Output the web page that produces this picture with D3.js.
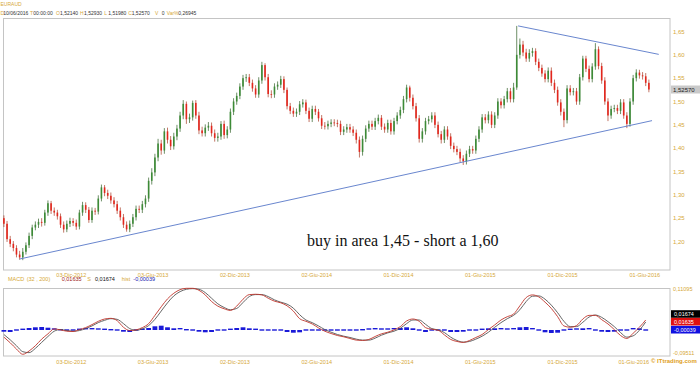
<!DOCTYPE html>
<html><head><meta charset="utf-8">
<script src="https://cdn.jsdelivr.net/npm/d3@7"></script>
<style>body{margin:0;background:#fff}svg{display:block}</style>
</head><body><svg id="c" width="700" height="365"></svg>
<script>
// ---------- DATA ----------
const symbol = "EURAUD";
const headerKeys = ["D","T","O","H","L","C","V","Var%"];
const headerVals = ["10/06/2016","00:00:00","1,52140","1,52930","1,51980","1,52570","0","0,26945"];
const lastPrice = 1.5257;
const startDate = "2012-07-06"; // first weekly candle
const firstOpen = 1.250;
const closes = [
1.238,1.205,1.195,1.186,1.172,1.166,1.178,1.192,1.212,1.230,
1.236,1.242,1.240,1.262,1.282,1.266,1.262,1.254,1.236,1.226,
1.238,1.244,1.240,1.232,1.262,1.278,1.268,1.246,1.266,1.264,
1.292,1.316,1.304,1.298,1.288,1.280,1.266,1.252,1.236,1.226,
1.238,1.252,1.270,1.268,1.280,1.292,1.330,1.348,1.380,1.410,
1.395,1.436,1.418,1.404,1.425,1.442,1.470,1.495,1.462,1.466,
1.497,1.470,1.438,1.432,1.444,1.448,1.432,1.422,1.425,1.452,
1.428,1.440,1.478,1.500,1.512,1.532,1.550,1.552,1.540,1.528,
1.515,1.545,1.578,1.552,1.516,1.515,1.532,1.536,1.548,1.525,
1.490,1.480,1.474,1.478,1.494,1.498,1.480,1.463,1.484,1.478,
1.464,1.448,1.447,1.452,1.455,1.454,1.452,1.435,1.440,1.445,
1.440,1.433,1.418,1.392,1.420,1.442,1.452,1.446,1.458,1.465,
1.446,1.440,1.454,1.436,1.458,1.470,1.482,1.505,1.530,1.508,
1.490,1.464,1.420,1.436,1.458,1.462,1.470,1.450,1.430,1.418,
1.440,1.425,1.405,1.398,1.392,1.378,1.372,1.388,1.398,1.395,
1.420,1.440,1.466,1.460,1.472,1.450,1.470,1.500,1.492,1.505,
1.522,1.505,1.530,1.600,1.622,1.605,1.592,1.604,1.608,1.585,
1.572,1.560,1.548,1.566,1.540,1.525,1.498,1.478,1.460,1.528,
1.520,1.522,1.500,1.552,1.592,1.570,1.548,1.575,1.612,1.576,
1.545,1.500,1.470,1.484,1.486,1.480,1.498,1.470,1.452,1.500,
1.550,1.562,1.556,1.554,1.540,1.5257];
const highs = [
1.256,1.244,1.212,1.201,1.192,1.180,1.186,1.198,1.219,1.236,
1.243,1.249,1.250,1.268,1.288,1.287,1.273,1.268,1.260,1.243,
1.245,1.251,1.250,1.247,1.268,1.285,1.284,1.274,1.273,1.272,
1.299,1.322,1.321,1.311,1.305,1.295,1.287,1.273,1.259,1.243,
1.245,1.259,1.277,1.277,1.287,1.299,1.337,1.357,1.388,1.420,
1.418,1.443,1.444,1.426,1.433,1.450,1.478,1.503,1.500,1.474,
1.502,1.503,1.478,1.446,1.451,1.456,1.455,1.440,1.433,1.458,
1.459,1.447,1.485,1.507,1.519,1.539,1.557,1.559,1.559,1.547,
1.535,1.552,1.585,1.582,1.559,1.524,1.539,1.543,1.555,1.554,
1.530,1.497,1.487,1.485,1.501,1.505,1.504,1.487,1.491,1.491,
1.484,1.471,1.456,1.459,1.462,1.462,1.461,1.459,1.447,1.452,
1.452,1.447,1.440,1.425,1.427,1.449,1.459,1.459,1.465,1.472,
1.471,1.453,1.461,1.461,1.465,1.477,1.489,1.512,1.536,1.534,
1.515,1.497,1.471,1.443,1.465,1.469,1.477,1.477,1.457,1.437,
1.447,1.447,1.432,1.412,1.405,1.399,1.385,1.395,1.405,1.405,
1.427,1.447,1.473,1.473,1.479,1.479,1.477,1.507,1.507,1.512,
1.529,1.529,1.540,1.662,1.635,1.630,1.613,1.612,1.615,1.614,
1.592,1.579,1.567,1.573,1.573,1.547,1.532,1.505,1.485,1.535,
1.535,1.529,1.529,1.559,1.598,1.598,1.577,1.582,1.625,1.618,
1.583,1.552,1.507,1.491,1.493,1.493,1.505,1.505,1.477,1.507,
1.557,1.569,1.568,1.563,1.561,1.547];
const lows = [
1.231,1.199,1.188,1.179,1.166,1.161,1.160,1.172,1.186,1.205,
1.224,1.229,1.232,1.234,1.255,1.259,1.255,1.247,1.229,1.219,
1.220,1.231,1.233,1.225,1.226,1.255,1.261,1.240,1.240,1.257,
1.258,1.286,1.297,1.291,1.281,1.273,1.259,1.245,1.229,1.221,
1.220,1.231,1.245,1.261,1.261,1.273,1.285,1.322,1.340,1.372,
1.386,1.388,1.410,1.396,1.397,1.417,1.435,1.462,1.452,1.454,
1.459,1.463,1.430,1.425,1.425,1.437,1.425,1.414,1.414,1.418,
1.420,1.421,1.433,1.471,1.493,1.505,1.525,1.542,1.533,1.521,
1.508,1.508,1.538,1.545,1.509,1.507,1.508,1.525,1.529,1.518,
1.483,1.473,1.467,1.467,1.471,1.487,1.473,1.456,1.456,1.471,
1.457,1.441,1.440,1.440,1.445,1.447,1.445,1.428,1.428,1.433,
1.433,1.426,1.410,1.380,1.384,1.413,1.435,1.439,1.439,1.451,
1.439,1.433,1.433,1.429,1.429,1.451,1.463,1.475,1.498,1.500,
1.483,1.457,1.412,1.412,1.429,1.451,1.455,1.443,1.423,1.410,
1.411,1.418,1.398,1.391,1.385,1.370,1.364,1.365,1.381,1.388,
1.388,1.413,1.433,1.453,1.453,1.443,1.443,1.463,1.485,1.485,
1.498,1.498,1.498,1.525,1.592,1.597,1.585,1.585,1.596,1.578,
1.565,1.553,1.541,1.541,1.533,1.518,1.491,1.470,1.445,1.453,
1.513,1.513,1.493,1.493,1.545,1.563,1.541,1.541,1.568,1.569,
1.538,1.493,1.458,1.463,1.477,1.473,1.473,1.463,1.443,1.446,
1.493,1.543,1.549,1.547,1.533,1.5198];

// MACD panel: one value every two weeks
const macdLine = [
-0.038,-0.055,-0.074,-0.090,-0.080,-0.064,-0.044,-0.028,-0.013,-0.016,
-0.020,-0.021,-0.015,-0.009,0.000,0.010,0.017,0.019,0.012,-0.008,
-0.018,-0.016,-0.009,0.003,0.028,0.054,0.078,0.095,0.106,0.110,
0.110,0.104,0.090,0.070,0.056,0.048,0.043,0.056,0.077,0.091,
0.092,0.090,0.080,0.071,0.066,0.057,0.041,0.018,0.010,0.002,
-0.010,-0.020,-0.027,-0.033,-0.037,-0.042,-0.047,-0.048,-0.045,-0.036,
-0.028,-0.023,-0.016,-0.006,0.011,0.017,0.010,-0.009,-0.014,-0.017,
-0.031,-0.045,-0.051,-0.054,-0.048,-0.039,-0.030,-0.015,-0.001,0.014,
0.024,0.032,0.057,0.082,0.090,0.084,0.068,0.049,0.024,-0.004,
-0.008,-0.003,0.017,0.028,0.028,0.015,0.002,-0.015,-0.033,-0.042,
-0.026,-0.008,0.014];
const signalLine = [
-0.030,-0.046,-0.064,-0.082,-0.085,-0.072,-0.054,-0.036,-0.020,-0.015,
-0.018,-0.020,-0.018,-0.012,-0.004,0.006,0.013,0.018,0.016,0.003,
-0.012,-0.017,-0.013,-0.003,0.016,0.041,0.066,0.087,0.100,0.107,
0.109,0.107,0.097,0.080,0.063,0.052,0.045,0.049,0.067,0.085,
0.091,0.091,0.085,0.075,0.068,0.062,0.050,0.030,0.014,0.006,
-0.004,-0.015,-0.023,-0.030,-0.035,-0.039,-0.044,-0.047,-0.047,-0.041,
-0.032,-0.025,-0.020,-0.011,0.003,0.014,0.014,0.001,-0.012,-0.016,
-0.024,-0.038,-0.048,-0.053,-0.051,-0.044,-0.035,-0.023,-0.008,0.006,
0.018,0.028,0.045,0.070,0.086,0.087,0.077,0.059,0.036,0.010,
-0.006,-0.006,0.007,0.023,0.029,0.022,0.009,-0.006,-0.024,-0.038,
-0.034,-0.017,0.008];
// histogram, drawn on its own scale around its own zero line
const histBars = [
-0.0017,-0.0020,-0.0013,0.0007,0.0020,0.0027,0.0030,0.0023,0.0010,0.0003,
-0.0007,-0.0010,0.0007,0.0013,0.0013,0.0010,0.0007,0.0003,-0.0007,-0.0017,
-0.0020,-0.0010,0.0007,0.0020,0.0037,0.0043,0.0027,0.0017,0.0013,0.0003,
-0.0007,-0.0017,-0.0023,-0.0020,-0.0010,-0.0007,0.0007,0.0020,0.0027,0.0017,
0.0007,-0.0003,-0.0007,-0.0007,-0.0010,-0.0020,-0.0027,-0.0023,-0.0010,-0.0007,
-0.0007,-0.0007,-0.0007,-0.0007,-0.0007,-0.0007,-0.0007,0.0003,0.0010,0.0013,
0.0010,0.0010,0.0013,0.0020,0.0027,0.0017,-0.0013,-0.0020,-0.0007,-0.0007,
-0.0013,-0.0020,-0.0020,-0.0017,-0.0013,-0.0013,0.0007,0.0017,0.0017,0.0013,
0.0010,0.0013,0.0027,0.0030,0.0013,-0.0013,-0.0023,-0.0030,-0.0027,-0.0010,
0.0007,0.0010,0.0017,0.0013,-0.0007,-0.0017,-0.0020,-0.0017,-0.0013,-0.0010,
0.0013,0.0017,-0.0004];
const histScale = [-0.026, 0.042];
const macdKeys = ["MACD","(32 , 200)","S","hist"];
const macdVals = ["0,01635","0,01674","-0,00039"];
const macdScale = [-0.09511, 0.11095];
const macdScaleLabels = ["0,11095","-0,09511"];

const priceTicks = [1.20,1.25,1.30,1.35,1.40,1.45,1.50,1.55,1.60,1.65];
const dateTicks = ["2012-12-03","2013-06-03","2013-12-02","2014-06-02","2014-12-01","2015-06-01","2015-12-01","2016-06-01"];
const dateTickLabels = ["03-Dic-2012","03-Giu-2013","02-Dic-2013","02-Giu-2014","01-Dic-2014","01-Giu-2015","01-Dic-2015","01-Giu-2016"];
const trendLow = [["2012-08-10",1.1625],["2016-06-17",1.459]];
const trendHigh = [["2015-08-24",1.662],["2016-07-02",1.601]];
const note = "buy in area 1,45 - short a 1,60";
const copyright = "\u00A9 ITtrading.com";

// ---------- DRAW ----------
const svg = d3.select("#c");
const parse = d3.timeParse("%Y-%m-%d");
const it = d3.formatLocale({decimal:",",thousands:".",grouping:[3],currency:["",""]});
const f2 = it.format(".2f"), f5 = it.format(".5f");
const gold = "#d6a838", frameC = "#c4c4c4", font = "Liberation Sans, Arial, sans-serif";

const x = d3.scaleTime().domain([parse("2012-07-04"), parse("2016-07-27")]).range([3, 670]);
const y = d3.scaleLinear().domain([1.20, 1.65]).range([241.5, 31.5]);
const ym = d3.scaleLinear().domain(macdScale).range([356, 288]);
const yh = d3.scaleLinear().domain(histScale).range([356, 288]);

const t0 = parse(startDate);
const candles = closes.map((c, i) => ({
  date: d3.timeDay.offset(t0, 7 * i),
  o: i === 0 ? firstOpen : closes[i - 1], c, h: highs[i], l: lows[i]
}));

// header
svg.append("text").attr("x", 0.5).attr("y", 6).attr("font-family", font).attr("font-size", 5)
  .attr("fill", gold).text(symbol);
const keyX = [0.5, 30, 56, 80, 104.3, 128.3, 155, 166.7];
const valX = [3.3, 33.3, 60, 84, 108.3, 131.7, 161.7, 178.3];
headerKeys.forEach((k, i) => {
  svg.append("text").attr("x", keyX[i]).attr("y", 15).attr("font-family", font).attr("font-size", 5)
    .attr("fill", gold).text(k);
  svg.append("text").attr("x", valX[i]).attr("y", 15).attr("font-family", font).attr("font-size", 5)
    .attr("fill", "#333").text(headerVals[i]);
});

// main frame
svg.append("rect").attr("x", 3.5).attr("y", 18.5).attr("width", 666.5).attr("height", 251.5)
  .attr("fill", "none").attr("stroke", frameC);

// price axis labels
svg.append("g").selectAll("text").data(priceTicks).join("text")
  .attr("x", 673).attr("y", d => y(d) + 2).attr("font-family", font).attr("font-size", 6)
  .attr("fill", gold).text(d => f2(d));

// last price box
svg.append("rect").attr("x", 671).attr("y", y(lastPrice) - 4).attr("width", 29).attr("height", 8).attr("fill", "#c9c9c9");
svg.append("text").attr("x", 673).attr("y", y(lastPrice) + 2).attr("font-family", font).attr("font-size", 6)
  .attr("fill", "#222").text(f5(lastPrice));

// candles
const cg = svg.append("g");
cg.selectAll("line").data(candles).join("line")
  .attr("x1", d => x(d.date)).attr("x2", d => x(d.date))
  .attr("y1", d => y(d.h)).attr("y2", d => y(d.l))
  .attr("stroke", d => d.c >= d.o ? "#2f5f25" : "#a83a22").attr("stroke-width", 0.7);
cg.selectAll("rect").data(candles).join("rect")
  .attr("x", d => x(d.date) - 0.8).attr("width", 1.6)
  .attr("y", d => y(Math.max(d.o, d.c)))
  .attr("height", d => Math.max(0.8, Math.abs(y(d.o) - y(d.c))))
  .attr("fill", d => d.c >= d.o ? "#3d8b37" : "#e3261d");

// trend lines
const tl = d3.line().x(d => x(parse(d[0]))).y(d => y(d[1]));
[trendLow, trendHigh].forEach(t => svg.append("path").attr("d", tl(t)).attr("fill", "none")
  .attr("stroke", "#5878c8").attr("stroke-width", 0.9));

// note
svg.append("text").attr("x", 307).attr("y", 246).attr("font-family", "Liberation Serif, Times New Roman, serif")
  .attr("font-size", 16).attr("fill", "#111").text(note);

// date labels (both panels); the last lower label ends before the copyright
[274.5, 362].forEach((yy, p) => {
  svg.append("g").selectAll("text").data(dateTicks).join("text")
    .attr("x", (d, i) => (p === 1 && i === dateTicks.length - 1) ? 649 : x(parse(d)))
    .attr("text-anchor", (d, i) => (p === 1 && i === dateTicks.length - 1) ? "end" : "middle")
    .attr("y", yy + 2)
    .attr("font-family", font).attr("font-size", 5.5).attr("fill", gold)
    .text((d, i) => dateTickLabels[i]);
});

// MACD header
const mh = [[macdKeys[0], 8, gold], [macdKeys[1], 26.7, gold], [macdVals[0], 61.7, "#a02020"],
  [macdKeys[2], 87.3, gold], [macdVals[1], 95, "#111"], [macdKeys[3], 121.7, gold], [macdVals[2], 133.3, "#2020b0"]];
mh.forEach(m => svg.append("text").attr("x", m[1]).attr("y", 281).attr("font-family", font)
  .attr("font-size", 5.5).attr("fill", m[2]).text(m[0]));

// MACD frame
svg.append("rect").attr("x", 3.5).attr("y", 288.5).attr("width", 666.5).attr("height", 67.5)
  .attr("fill", "none").attr("stroke", frameC);

const mDates = macdLine.map((_, k) => d3.timeDay.offset(t0, 14 * k));
// histogram
svg.append("g").selectAll("rect").data(histBars).join("rect")
  .attr("x", (d, k) => x(mDates[k]) - 2.4).attr("width", 4.8)
  .attr("y", d => Math.min(yh(0), yh(d)) - (Math.abs(yh(d) - yh(0)) < 1.4 ? 0.7 : 0))
  .attr("height", d => Math.max(1.4, Math.abs(yh(d) - yh(0))))
  .attr("fill", "#1a1ad8");

const ml = d3.line().x((d, k) => x(mDates[k])).y(d => ym(d)).curve(d3.curveMonotoneX);
svg.append("path").attr("d", ml(signalLine)).attr("fill", "none").attr("stroke", "#555").attr("stroke-width", 0.9);
svg.append("path").attr("d", ml(macdLine)).attr("fill", "none").attr("stroke", "#c0362c").attr("stroke-width", 0.9);

// MACD right labels
svg.append("text").attr("x", 673).attr("y", 291).attr("font-family", font).attr("font-size", 5.5).attr("fill", gold).text(macdScaleLabels[0]);
svg.append("text").attr("x", 673).attr("y", 355).attr("font-family", font).attr("font-size", 5.5).attr("fill", gold).text(macdScaleLabels[1]);
const boxes = [[macdVals[1], 314, "#000"], [macdVals[0], 321.7, "#e01010"], [macdVals[2], 329.7, "#1010e0"]];
boxes.forEach(b => {
  svg.append("rect").attr("x", 671).attr("y", b[1] - 3.8).attr("width", 29).attr("height", 7.6).attr("fill", b[2]);
  svg.append("text").attr("x", 674).attr("y", b[1] + 2).attr("font-family", font).attr("font-size", 5.5)
    .attr("fill", "#fff").text(b[0]);
});

// copyright
svg.append("text").attr("x", 651).attr("y", 363).attr("font-family", font).attr("font-size", 6)
  .attr("font-weight", "bold").attr("fill", "#e0a020").text(copyright);
</script></body></html>
